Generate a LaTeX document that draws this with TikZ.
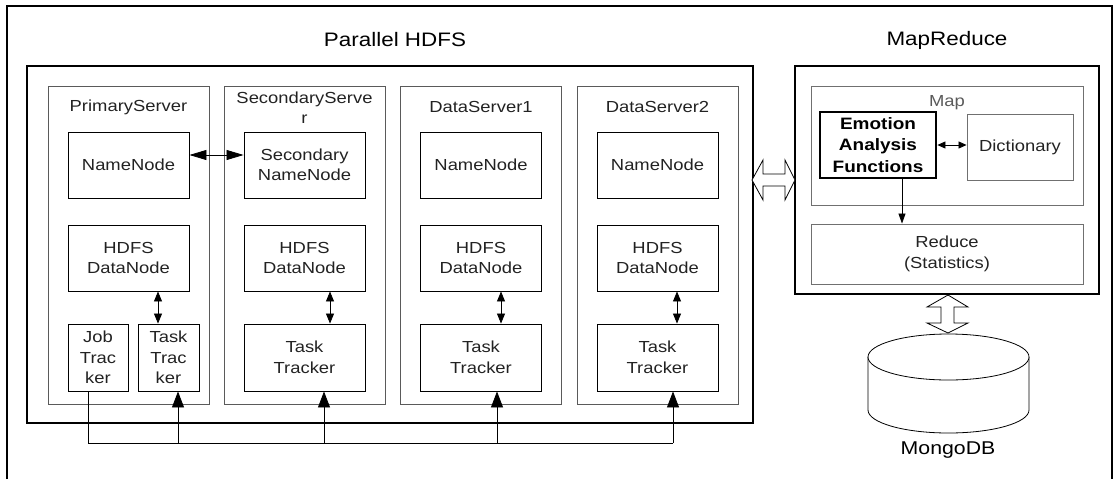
\documentclass[tikz,border=0pt]{standalone}
\usepackage{fontspec}
\setmainfont{Liberation Sans}[FakeStretch=1.15]
\usetikzlibrary{arrows.meta}
\definecolor{srvgray}{HTML}{5A5A5A}
\definecolor{mapgray}{HTML}{707070}
\definecolor{ink}{HTML}{222222}
\begin{document}
\begin{tikzpicture}[x=1pt,y=-1pt,
  txt/.style={font=\fontsize{16}{20.5}\selectfont, text=ink, align=center, inner sep=0},
  title/.style={font=\fontsize{19.5}{23}\selectfont, inner sep=0},
  box/.style={draw=black, line width=0.9pt, minimum width=121, minimum height=66,
    inner sep=0, align=center, text=ink, font=\fontsize{16}{20.5}\selectfont},
  server/.style={draw=srvgray, line width=1pt, minimum width=161, minimum height=318, inner sep=0},
  heavy/.style={draw=black, line width=2.8pt, inner sep=0},
  grayframe/.style={draw=mapgray, line width=0.9pt, inner sep=0, align=center, text=ink,
    font=\fontsize{16}{21.5}\selectfont},
  smalldbl/.style={line width=0.8pt, {Triangle[length=10pt,width=8pt]}-{Triangle[length=10pt,width=8pt]}},
  bigdbl/.style={line width=0.8pt, {Triangle[length=17pt,width=10pt]}-{Triangle[length=17pt,width=10pt]}},
  uptip/.style={line width=0.8pt, -{Triangle[length=16pt,width=12pt]}},
  tinydbl/.style={line width=0.8pt, {Triangle[length=8pt,width=7pt]}-{Triangle[length=8pt,width=7pt]}},
  downtip/.style={line width=0.8pt, -{Triangle[length=10pt,width=7pt]}},
  hollow/.style={draw=black, fill=white, line width=0.8pt, line join=miter}
]
\useasboundingbox (0,0) rectangle (1115,479);

% outer frame, open at the bottom
\draw[line width=1.3pt] (7,479) -- (7,6) -- (1112,6) -- (1112,479);

% titles
\node[title] (tHDFS) at (395,40) {Parallel HDFS};
\node[title] (tMR) at (947,40) {MapReduce};

% Parallel HDFS cluster
\node[heavy, minimum width=726, minimum height=357] (hdfs) at (390,244.5) {};

% servers
\node[server] (s1) at (128.5,245) {};
\node[server] (s2) at (304.5,245) {};
\node[server] (s3) at (481,245) {};
\node[server] (s4) at (657.5,245) {};
\node[txt] (l1) at (128.5,107) {PrimaryServer};
\node[txt] (l2) at (304.5,107.5) {SecondaryServe\\r};
\node[txt] (l3) at (481,107) {DataServer1};
\node[txt] (l4) at (657.5,107) {DataServer2};

% name nodes
\node[box] (nn1) at (128.5,165) {NameNode};
\node[box] (nn2) at (304.5,165) {Secondary\\NameNode};
\node[box] (nn3) at (481,165) {NameNode};
\node[box] (nn4) at (657.5,165) {NameNode};

% data nodes
\node[box] (dn1) at (128.5,258) {HDFS\\DataNode};
\node[box] (dn2) at (304.5,258) {HDFS\\DataNode};
\node[box] (dn3) at (481,258) {HDFS\\DataNode};
\node[box] (dn4) at (657.5,258) {HDFS\\DataNode};

% trackers
\node[box, minimum width=60, minimum height=67] (jt) at (98,357.5) {Job\\Trac\\ker};
\node[box, minimum width=61, minimum height=67] (tt1) at (168.5,357.5) {Task\\Trac\\ker};
\node[box, minimum height=67] (tt2) at (304.5,357.5) {Task\\Tracker};
\node[box, minimum height=67] (tt3) at (481,357.5) {Task\\Tracker};
\node[box, minimum height=67] (tt4) at (657.5,357.5) {Task\\Tracker};

% name node <-> secondary name node
\draw[bigdbl] ([yshift=10]nn1.east) -- ([yshift=10]nn2.west);

% data node <-> task tracker
\draw[smalldbl] ([xshift=29.5]dn1.south) -- ([xshift=29.5]dn1.south |- tt1.north);
\draw[smalldbl] ([xshift=25.5]dn2.south) -- ([xshift=25.5]tt2.north);
\draw[smalldbl] ([xshift=20]dn3.south) -- ([xshift=20]tt3.north);
\draw[smalldbl] ([xshift=19.5]dn4.south) -- ([xshift=19.5]tt4.north);

% job tracker bus
\coordinate (busL) at (88,443);
\coordinate (busR) at (673,443);
\draw[line width=0.8pt] ([xshift=-10]jt.south) -- (busL) -- (busR);
\draw[uptip] ([xshift=9.5]tt1.south |- busL) -- ([xshift=9.5]tt1.south);
\draw[uptip] ([xshift=19.5]tt2.south |- busL) -- ([xshift=19.5]tt2.south);
\draw[uptip] ([xshift=16]tt3.south |- busL) -- ([xshift=16]tt3.south);
\draw[uptip] ([xshift=15.5]tt4.south |- busL) -- ([xshift=15.5]tt4.south);

% MapReduce
\node[heavy, minimum width=304, minimum height=228] (mr) at (947,180) {};
\node[grayframe, minimum width=272, minimum height=119] (map) at (947,145.5) {};
\node[txt, text=srvgray] (mapl) at (947,103) {Map};
\node[heavy, minimum width=116, minimum height=66, align=center,
  font=\fontsize{16.5}{21.3}\selectfont\bfseries] (ea) at (878,145) {Emotion\\Analysis\\Functions};
\node[grayframe, minimum width=106, minimum height=66] (dict) at (1020,147) {Dictionary};
\node[grayframe, minimum width=272, minimum height=60] (red) at (947,254) {Reduce\\(Statistics)};
\draw[tinydbl] (ea.east) -- (ea.east -| dict.west);
\draw[downtip] ([xshift=24]ea.south) -- ([xshift=24]ea.south |- red.north);

% hollow link between HDFS and MapReduce
\draw[hollow] (752,180) -- (763,160) -- (763,174) -- (785,174) -- (785,160) -- (795,180)
  -- (785,200) -- (785,186) -- (763,186) -- (763,200) -- cycle;

% hollow link between MapReduce and MongoDB
\draw[hollow] (948,295) -- (968,307) -- (954,307) -- (954,323) -- (968,323) -- (948,333)
  -- (927,323) -- (941,323) -- (941,307) -- (927,307) -- cycle;

% MongoDB cylinder
\draw[line width=0.8pt, fill=white] (868,357) -- (868,410) arc[start angle=180, end angle=360, x radius=80.5, y radius=-23] -- (1029,357);
\draw[line width=0.8pt, fill=white] (948.5,357) ellipse[x radius=80.5, y radius=23];
\node[title, font=\fontsize{18.5}{22}\selectfont] (mongo) at (948,450) {MongoDB};
\end{tikzpicture}
\end{document}
